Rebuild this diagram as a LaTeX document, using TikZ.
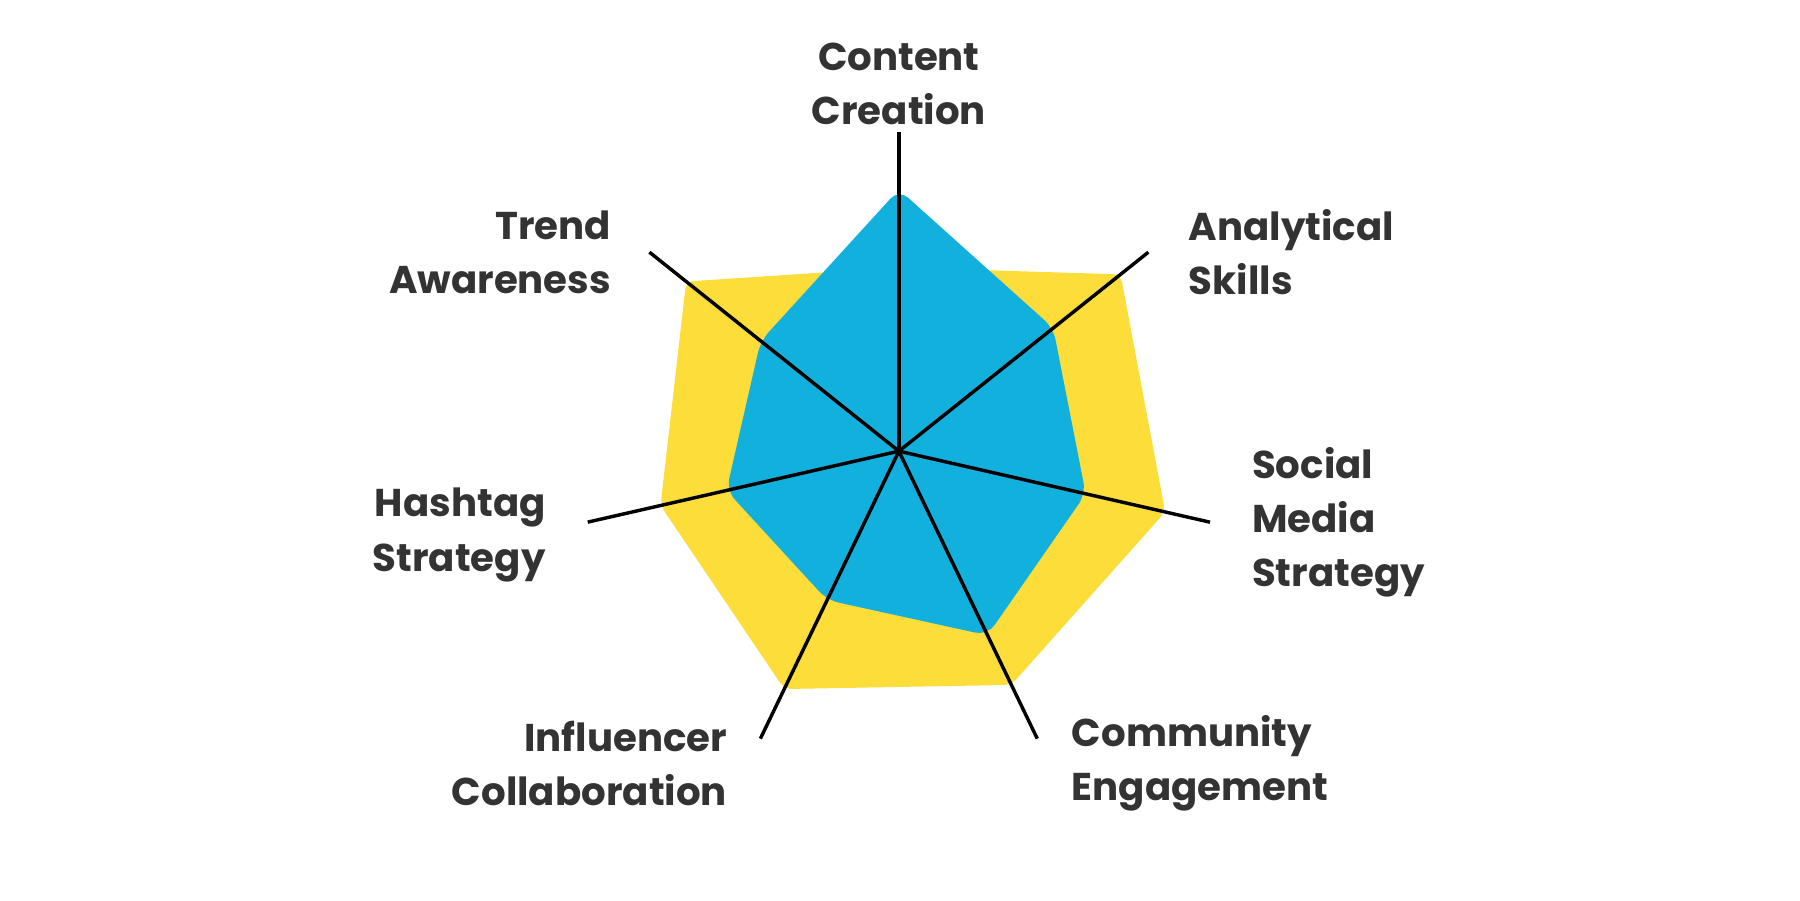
\documentclass[tikz,border=0pt]{standalone}
\usepackage{fontspec}
\setmainfont{Poppins}
\usetikzlibrary{positioning}
\definecolor{skyblue}{HTML}{12B0DC}
\definecolor{sunyellow}{HTML}{FDDD3A}
\definecolor{labelgray}{HTML}{333333}

\begin{document}
\begin{tikzpicture}[
        axis/.style={draw=black, line width=0.85pt},
        lbl/.style={font=\fontsize{9.6}{13.4}\selectfont\bfseries, text=labelgray, inner sep=0pt}
    ]
    \useasboundingbox (0,0) rectangle (15.68,7.84);
    \coordinate (c) at (7.83,3.91);

    % yellow and blue areas
    \fill[sunyellow, rounded corners=2pt] ([shift={(90:1.60)}]c) -- ([shift={(38.57:2.47)}]c) -- ([shift={(-12.86:2.38)}]c)
        -- ([shift={(-64.29:2.26)}]c) -- ([shift={(-115.71:2.30)}]c) -- ([shift={(-167.14:2.13)}]c)
        -- ([shift={(141.43:2.37)}]c) -- cycle;
    \fill[skyblue, rounded corners=3pt] ([shift={(90:2.28)}]c) -- ([shift={(38.57:1.72)}]c) -- ([shift={(-12.86:1.67)}]c)
        -- ([shift={(-64.29:1.78)}]c) -- ([shift={(-115.71:1.44)}]c) -- ([shift={(-167.14:1.54)}]c)
        -- ([shift={(141.43:1.54)}]c) -- cycle;

    % axes
    \foreach \i in {1,...,7} {
        \coordinate (a\i) at ([shift={({90-(\i-1)*51.43}:2.78)}]c);
        \draw[axis] (c) -- (a\i);
    }

    \node[lbl, align=center] (content) at (7.83,7.11) {Content\\Creation};
    \node[lbl, align=left, anchor=west] (analytic) at (10.35,5.64) {Analytical\\Skills};
    \node[lbl, align=left, anchor=west] (social) at (10.90,3.29) {Social\\Media\\Strategy};
    \node[lbl, align=left, anchor=west] (community) at (9.33,1.19) {Community\\Engagement};
    \node[lbl, align=right, anchor=east] (influencer) at (6.34,1.19) {Influencer\\Collaboration};
    \node[lbl, align=right, anchor=east] (hashtag) at (4.76,3.18) {Hashtag\\Strategy};
    \node[lbl, align=right, anchor=east] (trend) at (5.33,5.64) {Trend\\Awareness};
\end{tikzpicture}
\end{document}
